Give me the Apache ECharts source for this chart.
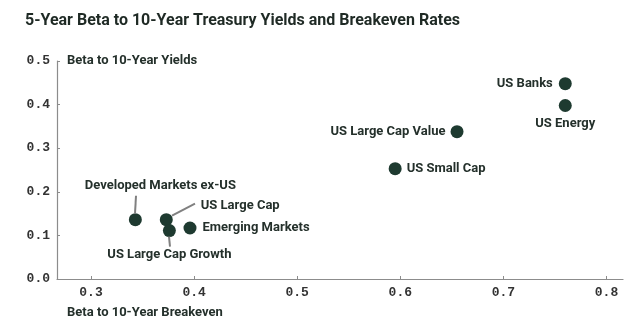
<!DOCTYPE html>
<html>
<head>
<meta charset="utf-8">
<script src="https://cdn.jsdelivr.net/npm/echarts@6/dist/echarts.min.js"></script>
<style>html,body{margin:0;padding:0;background:#fff}#c{width:626px;height:325px}</style>
</head>
<body>
<div id="c"></div>
<script>
const names = ['US Banks','US Energy','US Large Cap Value','US Small Cap','Emerging Markets','Developed Markets ex-US','US Large Cap','US Large Cap Growth'];
const breakevenBeta = [0.760, 0.760, 0.655, 0.595, 0.396, 0.343, 0.373, 0.376];
const yieldBeta = [0.448, 0.398, 0.338, 0.253, 0.117, 0.136, 0.136, 0.111];
const xTicks = [0.3, 0.4, 0.5, 0.6, 0.7, 0.8];
const yTicks = [0.0, 0.1, 0.2, 0.3, 0.4, 0.5];

// label placement styles (pixels), one per point
const labelStyles = [
  {position:'left', distance:6},
  {position:'bottom', distance:5},
  {position:'left', distance:5},
  {position:'right', distance:5},
  {position:'right', distance:6},
  {position:'top', distance:21, dx:25, leader:[0,-6,0,-24]},
  {position:'right', distance:28, dy:-14, leader:[6,-4,28,-16]},
  {position:'bottom', distance:11, leader:[0,6,0,16]}
];

const ink = '#24302b';
const dot = '#1e3a30';
const data = names.map((n,i)=>({
  name:n,
  value:[breakevenBeta[i], yieldBeta[i]],
  label:{position:labelStyles[i].position, distance:labelStyles[i].distance}
}));
const leaderIdx = labelStyles.map((s,i)=>s.leader?i:-1).filter(i=>i>=0);

const chart = echarts.init(document.getElementById('c'), null, {renderer:'canvas'});
chart.setOption({
  animation:false,
  title:{text:'5-Year Beta to 10-Year Treasury Yields and Breakeven Rates', left:20, top:8,
    textStyle:{fontFamily:'Roboto', fontWeight:'bold', fontSize:16, color:'#1f2a25'}},
  grid:{left:57, right:3, top:61, bottom:46, containLabel:false},
  xAxis:{type:'value', min:0.267, max:0.816,
    name:'Beta to 10-Year Breakeven', nameLocation:'start', nameGap:0,
    nameTextStyle:{align:'left', verticalAlign:'top', padding:[27,0,0,10], fontFamily:'Roboto', fontWeight:'bold', fontSize:13, color:ink},
    axisLine:{show:true, lineStyle:{color:'#8c8c8c', width:1.2}},
    axisTick:{show:true, inside:true, length:3, customValues:xTicks, lineStyle:{color:'#8c8c8c'}},
    axisLabel:{customValues:xTicks, margin:7, fontFamily:'Liberation Mono', fontWeight:'bold', fontSize:13, color:'#333',
      formatter:v=>v.toFixed(1)},
    splitLine:{show:false}},
  yAxis:{type:'value', min:0, max:0.5, interval:0.1,
    name:'Beta to 10-Year Yields', nameLocation:'end', nameGap:0,
    nameTextStyle:{align:'left', verticalAlign:'middle', padding:[0,0,0,10], fontFamily:'Roboto', fontWeight:'bold', fontSize:13, color:ink},
    axisLine:{show:true, lineStyle:{color:'#8c8c8c', width:1.2}},
    axisTick:{show:true, inside:true, length:3, lineStyle:{color:'#8c8c8c'}},
    axisLabel:{margin:7, fontFamily:'Liberation Mono', fontWeight:'bold', fontSize:13, color:'#333',
      formatter:v=>v.toFixed(1)},
    splitLine:{show:false}},
  series:[{
    type:'scatter',
    z:6,
    symbolSize:13,
    itemStyle:{color:dot, opacity:1},
    data:data,
    label:{show:true, formatter:'{b}', fontFamily:'Roboto', fontWeight:'bold', fontSize:13, color:ink},
    labelLayout:function(p){
      const s = labelStyles[p.dataIndex];
      return {dx:s.dx||0, dy:s.dy||0};
    }
  }]
});
// leader lines anchored to each point's position through the chart's own axes
const leaderGraphics = leaderIdx.map(i=>{
  const p = chart.convertToPixel({gridIndex:0}, [breakevenBeta[i], yieldBeta[i]]);
  const o = labelStyles[i].leader;
  const cx = Math.round(p[0]);
  return {type:'line', z:50, silent:true,
    shape:{x1:cx+o[0], y1:p[1]+o[1], x2:cx+o[2]+1, y2:p[1]+o[3]},
    style:{stroke:'#808080', lineWidth:2}};
});
chart.setOption({graphic:{elements:leaderGraphics}});
</script>
</body>
</html>
